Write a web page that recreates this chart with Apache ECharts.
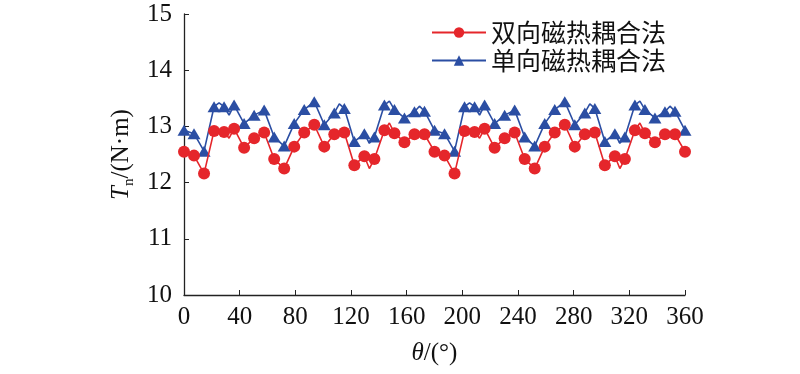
<!DOCTYPE html>
<html>
<head>
<meta charset="utf-8">
<script src="https://cdn.jsdelivr.net/npm/echarts@6/dist/echarts.min.js"></script>
<style>
html,body{margin:0;padding:0;background:#fff;}
#chart{width:800px;height:374px;}
</style>
</head>
<body>
<div id="chart"></div>
<script>
// Rotor angles (degrees) of the marked points
const angles = [0,7.2,14.4,21.6,28.8,36,43.2,50.4,57.6,64.8,72,79.2,86.4,93.6,100.8,108,115.2,122.4,129.6,136.8,144,151.2,158.4,165.6,172.8,
  180,187.2,194.4,201.6,208.8,216,223.2,230.4,237.6,244.8,252,259.2,266.4,273.6,280.8,288,295.2,302.4,309.6,316.8,324,331.2,338.4,345.6,352.8,360];

const seriesNames = ['双向磁热耦合法','单向磁热耦合法'];

// 双向磁热耦合法 torque (N·m)
const redValues = [12.55,12.48,12.16,12.92,12.90,12.96,12.62,12.79,12.89,12.42,12.25,12.64,12.89,13.03,12.64,12.86,12.89,12.31,12.47,12.42,12.93,12.88,12.72,12.86,12.86,
  12.55,12.48,12.16,12.92,12.90,12.96,12.62,12.79,12.89,12.42,12.25,12.64,12.89,13.03,12.64,12.86,12.89,12.31,12.47,12.42,12.93,12.88,12.72,12.86,12.86,12.55];

// 单向磁热耦合法 torque (N·m)
const blueValues = [12.93,12.87,12.56,13.35,13.35,13.38,13.05,13.20,13.29,12.81,12.65,13.05,13.30,13.44,13.03,13.24,13.32,12.73,12.87,12.81,13.38,13.30,13.15,13.26,13.27,
  12.93,12.87,12.56,13.35,13.35,13.38,13.05,13.20,13.29,12.81,12.65,13.05,13.30,13.44,13.03,13.24,13.32,12.73,12.87,12.81,13.38,13.30,13.15,13.26,13.27,12.93];

// Unmarked line vertices (kinks between markers)
const redKinkAngles = [32.4,133.2,147.6,212.4,313.2,327.6];
const redKinkValues = [12.79,12.25,13.06,12.79,12.25,13.06];
const blueKinkAngles = [25.2,32.4,111.6,133.2,147.6,169.2,205.2,212.4,291.6,313.2,327.6,349.2];
const blueKinkValues = [13.42,13.20,13.40,12.70,13.45,13.36,13.42,13.20,13.40,12.70,13.45,13.36];

const xTicks = {min:0,max:360,interval:40};
const yTicks = {min:10,max:15,interval:1};

function buildData(vals, kA, kV){
  const pts = angles.map((a,i)=>({value:[a, vals[i]], main:true}));
  kA.forEach((a,i)=>pts.push({value:[a, kV[i]], main:false}));
  pts.sort((p,q)=>p.value[0]-q.value[0]);
  return pts.map(p=> p.main ? {value:p.value} : {value:p.value, symbol:'none'});
}

const RED = '#e5262b';
const BLUE = '#2b4ea3';
const serif = '"Liberation Serif","DejaVu Serif",serif';
const cjk = '"Noto Sans CJK SC","Noto Sans CJK JP",sans-serif';

const chart = echarts.init(document.getElementById('chart'), null, {renderer:'canvas'});
chart.setOption({
  animation:false,
  backgroundColor:'#fff',
  grid:{left:184,right:115,top:14,bottom:79,containLabel:false},
  legend:{
    orient:'vertical', left:426, top:15, itemWidth:54, itemHeight:13, itemGap:3,
    textStyle:{fontFamily:cjk, fontSize:25, color:'#111'},
    data:seriesNames
  },
  xAxis:{
    type:'value', min:xTicks.min, max:xTicks.max, interval:xTicks.interval,
    axisLine:{lineStyle:{color:'#222',width:1.3}},
    axisTick:{inside:true,length:5,lineStyle:{color:'#222'}},
    axisLabel:{fontFamily:serif,fontSize:25,color:'#111',margin:10},
    splitLine:{show:false},
    name:'{i|θ}/(°)', nameLocation:'middle', nameGap:46,
    nameTextStyle:{fontFamily:serif,fontSize:25,color:'#111',
      rich:{i:{fontFamily:serif,fontStyle:'italic',fontSize:25,color:'#111'}}}
  },
  yAxis:{
    type:'value', min:yTicks.min, max:yTicks.max, interval:yTicks.interval,
    axisLine:{show:true,lineStyle:{color:'#222',width:1.3}},
    axisTick:{show:true,inside:true,length:5,lineStyle:{color:'#222'}},
    axisLabel:{fontFamily:serif,fontSize:25,color:'#111',margin:12},
    splitLine:{show:false},
    name:'{i|T}{s|n}/(N·m)', nameLocation:'middle', nameGap:47, nameRotate:90,
    nameTextStyle:{fontFamily:serif,fontSize:25,color:'#111',
      rich:{i:{fontFamily:serif,fontStyle:'italic',fontSize:25,color:'#111'},
            s:{fontFamily:serif,fontSize:15,color:'#111',verticalAlign:'bottom',padding:[14,0,0,0]}}}
  },
  series:[
    {name:seriesNames[0], type:'line', data:buildData(redValues, redKinkAngles, redKinkValues),
     symbol:'circle', symbolSize:12, color:RED,
     lineStyle:{color:RED,width:1.6}, itemStyle:{color:RED}, z:3},
    {name:seriesNames[1], type:'line', data:buildData(blueValues, blueKinkAngles, blueKinkValues),
     symbol:'triangle', symbolSize:[13,11], color:BLUE,
     lineStyle:{color:BLUE,width:1.6}, itemStyle:{color:BLUE}, z:2}
  ]
});
</script>
</body>
</html>
